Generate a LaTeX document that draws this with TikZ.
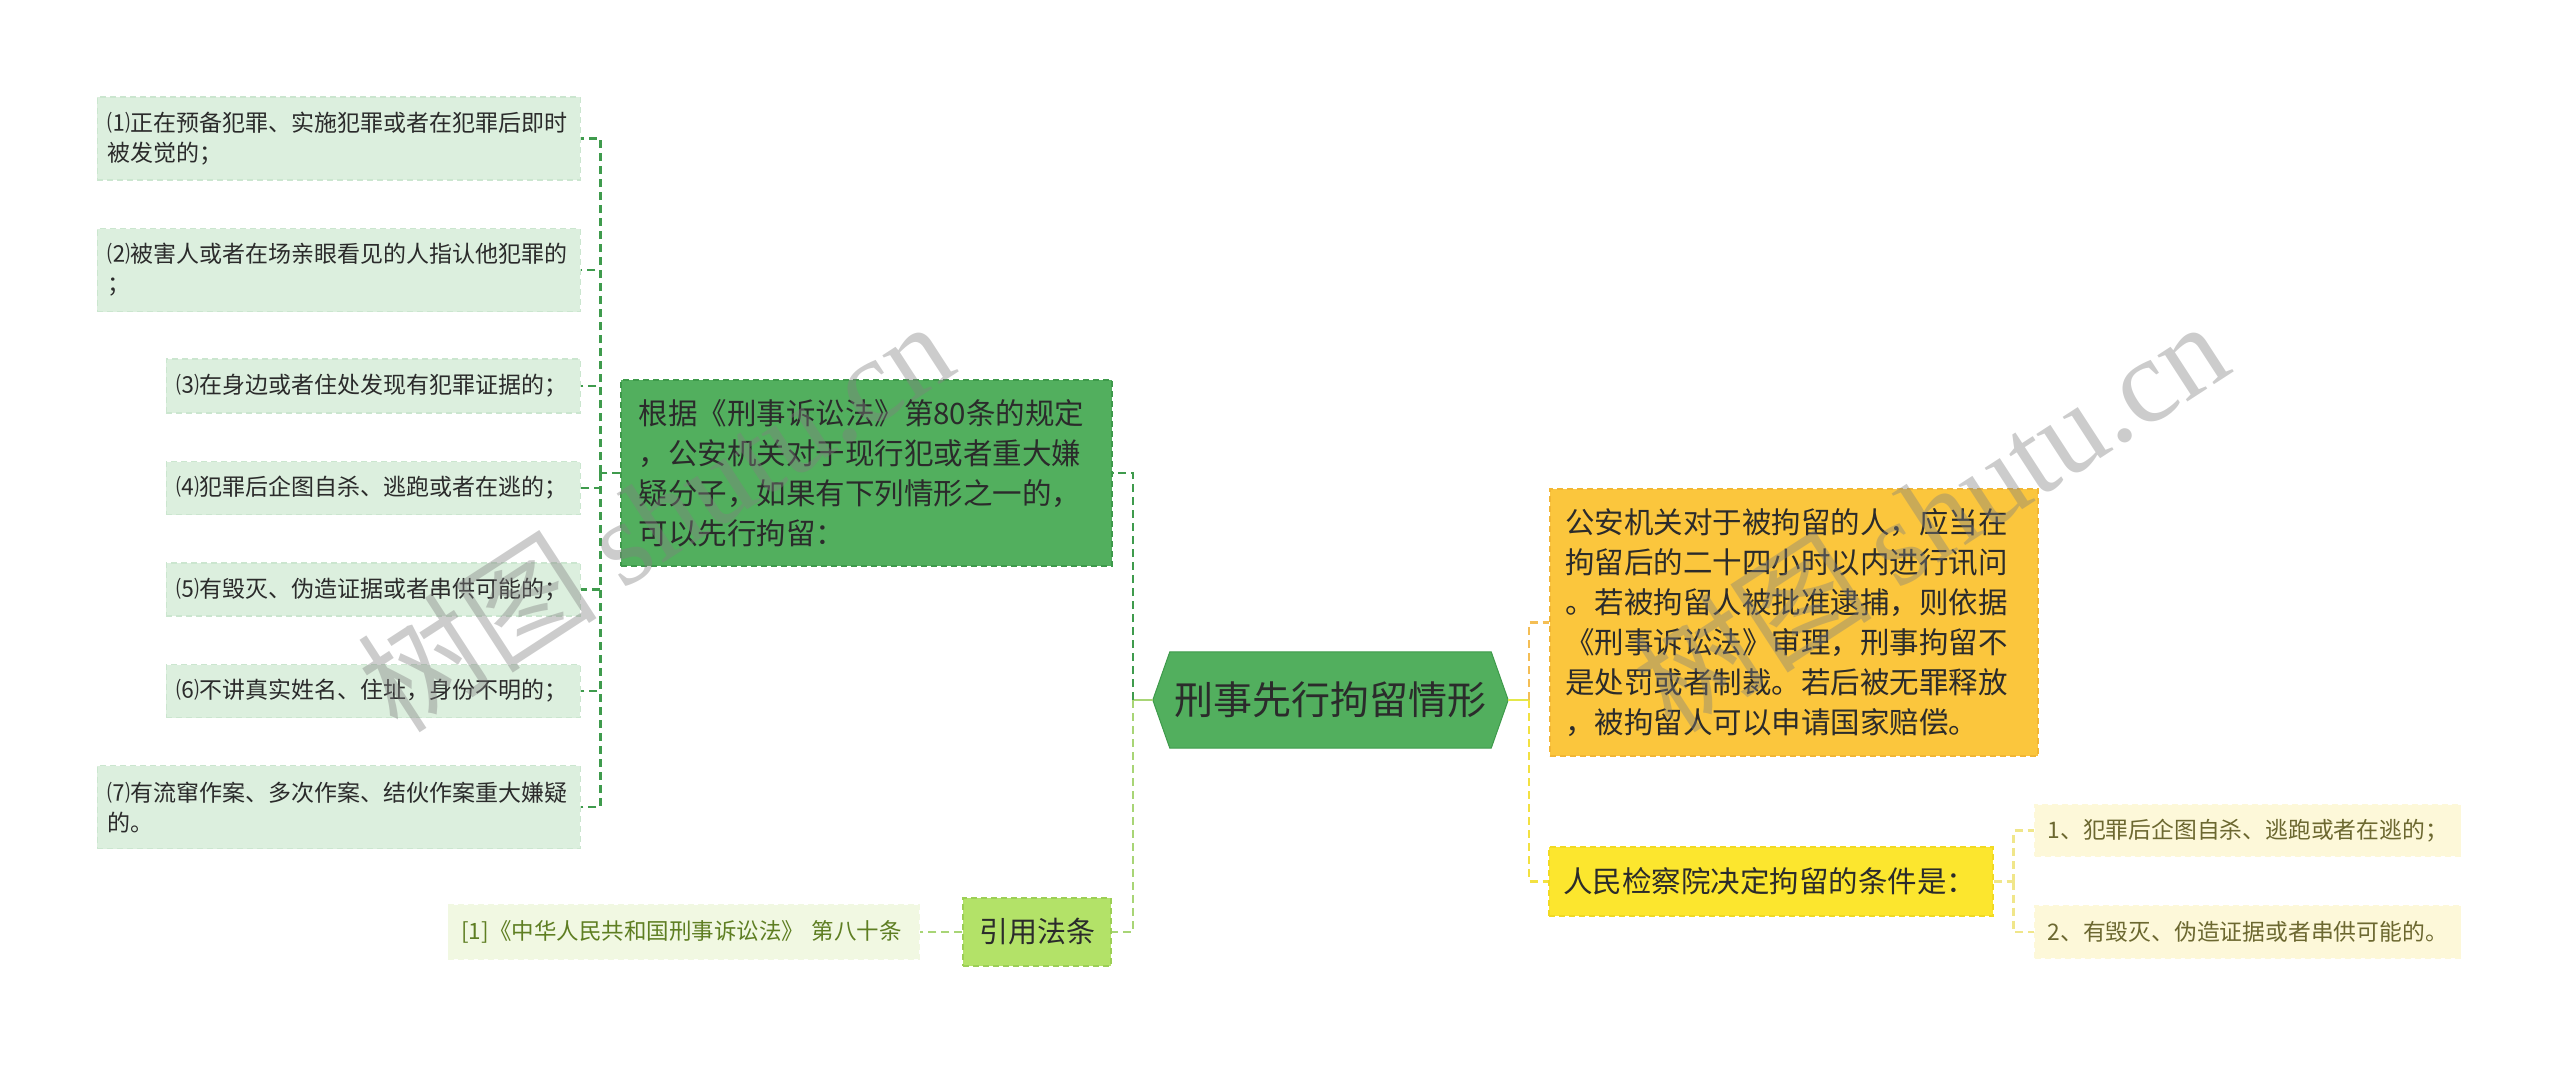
\documentclass[tikz,border=0pt]{standalone}
\usepackage{fontspec}
\setmainfont{Noto Sans CJK SC}
\newfontfamily\wmlatin{Liberation Serif}
\usetikzlibrary{calc,backgrounds}
\definecolor{txt}{HTML}{2B2B2B}
\definecolor{gLeaf}{HTML}{DCEFDE}
\definecolor{gLeafB}{HTML}{CBE6CF}
\definecolor{gMid}{HTML}{52AF5E}
\definecolor{gMidB}{HTML}{3E9A4B}
\definecolor{gLine}{HTML}{3F9B4D}
\definecolor{gLime}{HTML}{B3E268}
\definecolor{gLimeB}{HTML}{9CCF55}
\definecolor{gLimeL}{HTML}{A8D576}
\definecolor{gPale}{HTML}{F1F8E2}
\definecolor{gPaleT}{HTML}{5E7E22}
\definecolor{oFill}{HTML}{FBC63D}
\definecolor{oFillB}{HTML}{F2B634}
\definecolor{oLine}{HTML}{F4BE55}
\definecolor{yFill}{HTML}{FCE62E}
\definecolor{yFillB}{HTML}{F1DA22}
\definecolor{yLine}{HTML}{F3E141}
\definecolor{yStub}{HTML}{E4E84A}
\definecolor{yPale}{HTML}{FDF8D9}
\definecolor{yPaleT}{HTML}{6C6830}
\definecolor{yPaleL}{HTML}{F0E68A}

\begin{document}
\begin{tikzpicture}[x=1pt,y=-1pt,
  box/.style={dash pattern=on 6pt off 4pt,line width=1.3pt,align=left,inner ysep=0pt,text=txt},
  lf/.style={box,draw=gLeafB,fill=gLeaf,font=\fontsize{23}{30}\selectfont,inner xsep=10.5pt,anchor=east},
  big/.style={box,font=\fontsize{29.5}{40}\selectfont},
  lnk/.style={line width=2.4pt,dash pattern=on 8pt off 5pt},
  wm/.style={text=gray,opacity=0.4,font=\fontsize{120}{120}\selectfont,rotate=33}]
\useasboundingbox (0,0) rectangle (2560,1065);

% centre
\node[font=\fontsize{39}{46}\selectfont,text=txt,minimum width=355,minimum height=96,inner sep=0pt] (root) at (1330.5,700) {刑事先行拘留情形};
\begin{scope}[on background layer]
\filldraw[fill=gMid,draw=gMidB,line width=1pt] (root.west) -- ($(root.north west)+(17,0)$) -- ($(root.north east)+(-17,0)$)
  -- (root.east) -- ($(root.south east)+(-17,0)$) -- ($(root.south west)+(17,0)$) -- cycle;
\end{scope}

% left branch
\node[big,draw=gMidB,fill=gMid,text width=456,inner xsep=17.5pt,minimum height=186] (mid) at (866.5,473)
  {根据《刑事诉讼法》第80条的规定\\，公安机关对于现行犯或者重大嫌\\疑分子，如果有下列情形之一的，\\可以先行拘留：};
\node[lf,text width=462,minimum height=83] (l1) at (581,138.5) {⑴正在预备犯罪、实施犯罪或者在犯罪后即时\\被发觉的；};
\node[lf,text width=462,minimum height=83] (l2) at (581,270) {⑵被害人或者在场亲眼看见的人指认他犯罪的\\；};
\node[lf,text width=393,minimum height=54] (l3) at (581,386) {⑶在身边或者住处发现有犯罪证据的；};
\node[lf,text width=393,minimum height=53] (l4) at (581,488) {⑷犯罪后企图自杀、逃跑或者在逃的；};
\node[lf,text width=393,minimum height=53] (l5) at (581,589.5) {⑸有毁灭、伪造证据或者串供可能的；};
\node[lf,text width=393,minimum height=53] (l6) at (581,691) {⑹不讲真实姓名、住址，身份不明的；};
\node[lf,text width=462,minimum height=83] (l7) at (581,807) {⑺有流窜作案、多次作案、结伙作案重大嫌疑\\的。};

\node[box,draw=gLimeB,fill=gLime,font=\fontsize{29}{36}\selectfont,minimum width=148,minimum height=68,align=center] (cite) at (1037,932) {引用法条};
\node[box,draw=gPale,fill=gPale,text=gPaleT,font=\fontsize{22.5}{30}\selectfont,text width=445,inner xsep=13pt,minimum height=54,anchor=east] (src) at (920,932)
  {[1]《中华人民共和国刑事诉讼法》 第八十条};

% right branch
\node[big,draw=oFillB,fill=oFill,text width=458,inner xsep=15pt,minimum height=267] (org) at (1794,622.5)
  {公安机关对于被拘留的人，应当在\\拘留后的二十四小时以内进行讯问\\。若被拘留人被批准逮捕，则依据\\《刑事诉讼法》审理，刑事拘留不\\是处罚或者制裁。若后被无罪释放\\，被拘留人可以申请国家赔偿。};
\node[big,draw=yFillB,fill=yFill,text width=416,inner xsep=14pt,minimum height=69] (yel) at (1771,881.5) {人民检察院决定拘留的条件是：};
\node[lf,draw=yPale,fill=yPale,text=yPaleT,font=\fontsize{22.8}{30}\selectfont,text width=400,inner xsep=13pt,minimum height=51,anchor=west] (r1) at (2034,830.5) {1、犯罪后企图自杀、逃跑或者在逃的；};
\node[lf,draw=yPale,fill=yPale,text=yPaleT,font=\fontsize{22.8}{30}\selectfont,text width=400,inner xsep=13pt,minimum height=52,anchor=west] (r2) at (2034,932) {2、有毁灭、伪造证据或者串供可能的。};

% connectors
\draw[lnk,gLine] (mid.west) -- ++(-20,0) coordinate (ja);
\foreach \i in {1,...,7}
  \draw[lnk,gLine] (ja) |- (l\i.east);
\draw[line width=2.4pt,gLimeL] (root.west) -- ++(-20,0) coordinate (jb);
\draw[lnk,gLine] (jb) |- (mid.east);
\draw[lnk,gLimeL] (jb) |- (cite.east);
\draw[lnk,gLimeL] (cite.west) -- (src.east);
\draw[line width=2.4pt,yStub] (root.east) -- ++(21,0) coordinate (jc);
\draw[lnk,oLine] (jc) |- (org.west);
\draw[lnk,yLine] (jc) |- (yel.west);
\draw[lnk,yPaleL] (yel.east) -- ++(20,0) coordinate (jd);
\draw[lnk,yPaleL] (jd) |- (r1.west);
\draw[lnk,yPaleL] (jd) |- (r2.west);

% watermark
\node[wm] (wm1) at (655,515) {树图 {\wmlatin shutu.cn}};
\node[wm] (wm2) at (1930,515) {树图 {\wmlatin shutu.cn}};
\end{tikzpicture}
\end{document}
